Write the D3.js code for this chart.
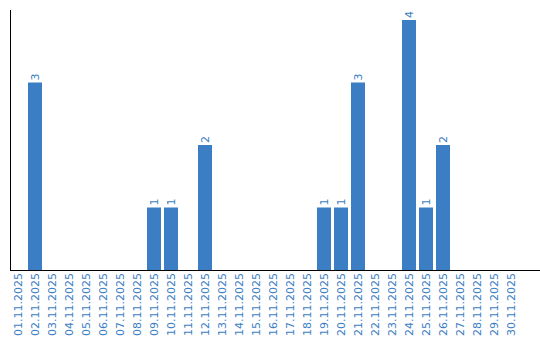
<!DOCTYPE html>
<html>
<head>
<meta charset="utf-8">
<script src="https://cdn.jsdelivr.net/npm/d3@7"></script>
<style>
  body { margin: 0; background: #fff; }
  text { font-family: "DejaVu Sans", Verdana, sans-serif; }
</style>
</head>
<body>
<div id="chart"></div>
<script>
// daily counts, November 2025
const days = d3.range(1, 31).map(d => String(d).padStart(2, "0") + ".11.2025");
const counts = [0, 3, 0, 0, 0, 0, 0, 0, 1, 1, 0, 2, 0, 0, 0, 0, 0, 0, 1, 1, 3, 0, 0, 4, 1, 2, 0, 0, 0, 0];

const width = 540, height = 340;
const blue = "#3b7ec4";

const svg = d3.select("#chart").append("svg")
  .attr("width", width).attr("height", height);

const x = d3.scaleBand()
  .domain(days)
  .range([11, 518])
  .paddingInner(3 / 17)
  .paddingOuter(0);

const y = d3.scaleLinear().domain([0, 4]).range([270, 20]);

const data = days.map((d, i) => ({ day: d, v: counts[i] })).filter(d => d.v > 0);

svg.selectAll("rect.bar")
  .data(data)
  .enter().append("rect")
  .attr("class", "bar")
  .attr("x", d => x(d.day))
  .attr("y", d => y(d.v))
  .attr("width", x.bandwidth())
  .attr("height", d => y(0) - y(d.v))
  .attr("fill", blue);

// value labels above bars
svg.selectAll("text.val")
  .data(data)
  .enter().append("text")
  .attr("class", "val")
  .attr("transform", d => `translate(${x(d.day) + x.bandwidth() / 2 + 4},${y(d.v) - 2}) rotate(-90)`)
  .attr("fill", blue)
  .attr("font-size", 11)
  .text(d => d.v);

// x axis
const xAxis = svg.append("g")
  .attr("transform", "translate(0,270)")
  .call(d3.axisBottom(x).tickSize(0).tickSizeOuter(0));
xAxis.select(".domain").remove();
xAxis.selectAll("text")
  .attr("fill", blue)
  .attr("font-size", 11)
  .attr("text-anchor", "end")
  .attr("transform", "rotate(-90)")
  .attr("x", -3)
  .attr("y", 0)
  .attr("dy", "0.35em");

svg.append("line")
  .attr("x1", 10).attr("x2", width)
  .attr("y1", 270.5).attr("y2", 270.5)
  .attr("stroke", "#000");

svg.append("line")
  .attr("x1", 10.5).attr("x2", 10.5)
  .attr("y1", 10).attr("y2", 271)
  .attr("stroke", "#000");
</script>
</body>
</html>
